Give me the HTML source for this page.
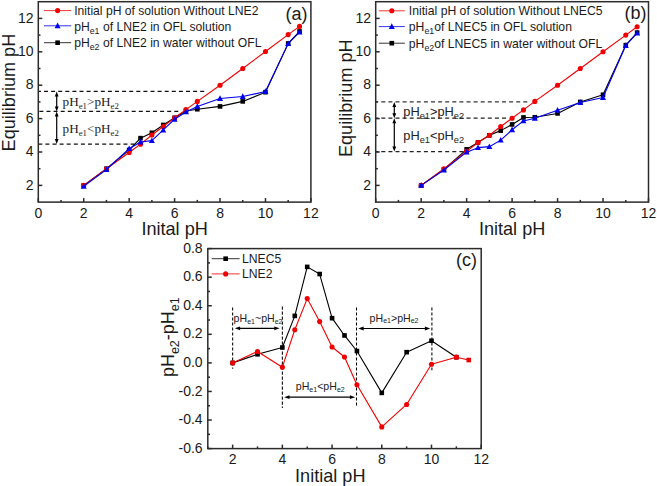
<!DOCTYPE html>
<html><head><meta charset="utf-8"><style>
html,body{margin:0;padding:0;background:#fff;}
body{width:657px;height:486px;overflow:hidden;font-family:"Liberation Sans", sans-serif;}
svg{display:block;}
</style></head><body>
<svg width="657" height="486" viewBox="0 0 657 486" font-family='"Liberation Sans", sans-serif' fill="#1a1a1a">
<rect width="100%" height="100%" fill="#ffffff"/>
<line x1="38.3" y1="91.4" x2="206.5" y2="91.4" stroke="#111" stroke-width="1.25" stroke-dasharray="4 3.1" stroke-dashoffset="1.4"/>
<line x1="38.3" y1="111.4" x2="179" y2="111.4" stroke="#111" stroke-width="1.25" stroke-dasharray="4 3.1" stroke-dashoffset="6.0"/>
<line x1="38.3" y1="144" x2="134.5" y2="144" stroke="#111" stroke-width="1.25" stroke-dasharray="4 3.1" stroke-dashoffset="0"/>
<line x1="56.7" y1="94.4" x2="56.7" y2="108.4" stroke="#000000" stroke-width="1.2"/>
<polygon points="56.7,91.4 54.8,96.4 58.6,96.4" fill="#000000"/>
<polygon points="56.7,111.4 54.8,106.4 58.6,106.4" fill="#000000"/>
<line x1="56.7" y1="114.4" x2="56.7" y2="141" stroke="#000000" stroke-width="1.2"/>
<polygon points="56.7,111.4 54.8,116.4 58.6,116.4" fill="#000000"/>
<polygon points="56.7,144 54.8,139 58.6,139" fill="#000000"/>
<text x="62.6" y="105.7" font-size="13.2" font-family='"Liberation Serif", serif' fill="#222" text-anchor="start">pH<tspan font-size="8.8" dy="3.3">e1</tspan><tspan dy="-3.3">&gt;</tspan>pH<tspan font-size="8.8" dy="3.3">e2</tspan></text>
<text x="62.6" y="133" font-size="13.2" font-family='"Liberation Serif", serif' fill="#222" text-anchor="start">pH<tspan font-size="8.8" dy="3.0">e1</tspan><tspan dy="-3.0">&lt;</tspan>pH<tspan font-size="8.8" dy="3.0">e2</tspan></text>
<polyline points="83.73,185.4 106.45,168.7 129.17,150 140.52,138.14 151.88,132.79 163.24,124.95 174.6,117.77 185.96,111.08 197.32,109.25 220.03,106.41 242.75,101.4 265.47,92.21 288.18,43.45 299.54,31.43" fill="none" stroke="#000000" stroke-width="1.1" stroke-linejoin="round"/>
<rect x="81.43" y="183.1" width="4.6" height="4.6" fill="#000000"/>
<rect x="104.15" y="166.4" width="4.6" height="4.6" fill="#000000"/>
<rect x="126.87" y="147.7" width="4.6" height="4.6" fill="#000000"/>
<rect x="138.22" y="135.84" width="4.6" height="4.6" fill="#000000"/>
<rect x="149.58" y="130.49" width="4.6" height="4.6" fill="#000000"/>
<rect x="160.94" y="122.65" width="4.6" height="4.6" fill="#000000"/>
<rect x="172.3" y="115.47" width="4.6" height="4.6" fill="#000000"/>
<rect x="183.66" y="108.78" width="4.6" height="4.6" fill="#000000"/>
<rect x="195.02" y="106.95" width="4.6" height="4.6" fill="#000000"/>
<rect x="217.73" y="104.11" width="4.6" height="4.6" fill="#000000"/>
<rect x="240.45" y="99.1" width="4.6" height="4.6" fill="#000000"/>
<rect x="263.17" y="89.91" width="4.6" height="4.6" fill="#000000"/>
<rect x="285.88" y="41.15" width="4.6" height="4.6" fill="#000000"/>
<rect x="297.24" y="29.13" width="4.6" height="4.6" fill="#000000"/>
<polyline points="83.73,185.4 106.45,168.7 129.17,152.5 140.52,144.15 151.88,134.97 163.24,126.45 174.6,117.77 185.96,109.58 197.32,101.4 220.03,85.2 242.75,68.5 265.47,51.47 288.18,34.6 299.54,26.42" fill="none" stroke="#f00000" stroke-width="1.1" stroke-linejoin="round"/>
<circle cx="83.73" cy="185.4" r="2.55" fill="#f00000"/>
<circle cx="106.45" cy="168.7" r="2.55" fill="#f00000"/>
<circle cx="129.17" cy="152.5" r="2.55" fill="#f00000"/>
<circle cx="140.52" cy="144.15" r="2.55" fill="#f00000"/>
<circle cx="151.88" cy="134.97" r="2.55" fill="#f00000"/>
<circle cx="163.24" cy="126.45" r="2.55" fill="#f00000"/>
<circle cx="174.6" cy="117.77" r="2.55" fill="#f00000"/>
<circle cx="185.96" cy="109.58" r="2.55" fill="#f00000"/>
<circle cx="197.32" cy="101.4" r="2.55" fill="#f00000"/>
<circle cx="220.03" cy="85.2" r="2.55" fill="#f00000"/>
<circle cx="242.75" cy="68.5" r="2.55" fill="#f00000"/>
<circle cx="265.47" cy="51.47" r="2.55" fill="#f00000"/>
<circle cx="288.18" cy="34.6" r="2.55" fill="#f00000"/>
<circle cx="299.54" cy="26.42" r="2.55" fill="#f00000"/>
<polyline points="83.73,186.23 106.45,169.53 129.17,148.66 140.52,141.98 151.88,140.64 163.24,129.96 174.6,119.27 185.96,111.92 197.32,106.41 220.03,98.56 242.75,96.56 265.47,91.55 288.18,43.62 299.54,32.09" fill="none" stroke="#0000f0" stroke-width="1.1" stroke-linejoin="round"/>
<polygon points="83.73,183.01 80.74,188.66 86.72,188.66" fill="#0000f0"/>
<polygon points="106.45,166.31 103.46,171.96 109.44,171.96" fill="#0000f0"/>
<polygon points="129.17,145.43 126.18,151.08 132.16,151.08" fill="#0000f0"/>
<polygon points="140.52,138.75 137.53,144.4 143.51,144.4" fill="#0000f0"/>
<polygon points="151.88,137.41 148.89,143.07 154.87,143.07" fill="#0000f0"/>
<polygon points="163.24,126.73 160.25,132.38 166.23,132.38" fill="#0000f0"/>
<polygon points="174.6,116.04 171.61,121.69 177.59,121.69" fill="#0000f0"/>
<polygon points="185.96,108.69 182.97,114.34 188.95,114.34" fill="#0000f0"/>
<polygon points="197.32,103.18 194.33,108.83 200.31,108.83" fill="#0000f0"/>
<polygon points="220.03,95.33 217.04,100.98 223.02,100.98" fill="#0000f0"/>
<polygon points="242.75,93.33 239.76,98.98 245.74,98.98" fill="#0000f0"/>
<polygon points="265.47,88.32 262.48,93.97 268.46,93.97" fill="#0000f0"/>
<polygon points="288.18,40.39 285.19,46.04 291.17,46.04" fill="#0000f0"/>
<polygon points="299.54,28.86 296.55,34.52 302.53,34.52" fill="#0000f0"/>
<rect x="38.3" y="1.7" width="272.6" height="200.4" fill="none" stroke="#2b2b2b" stroke-width="1.5"/>
<line x1="38.3" y1="202.1" x2="38.3" y2="198.1" stroke="#2b2b2b" stroke-width="1.5"/>
<line x1="83.73" y1="202.1" x2="83.73" y2="198.1" stroke="#2b2b2b" stroke-width="1.5"/>
<line x1="129.17" y1="202.1" x2="129.17" y2="198.1" stroke="#2b2b2b" stroke-width="1.5"/>
<line x1="174.6" y1="202.1" x2="174.6" y2="198.1" stroke="#2b2b2b" stroke-width="1.5"/>
<line x1="220.03" y1="202.1" x2="220.03" y2="198.1" stroke="#2b2b2b" stroke-width="1.5"/>
<line x1="265.47" y1="202.1" x2="265.47" y2="198.1" stroke="#2b2b2b" stroke-width="1.5"/>
<line x1="310.9" y1="202.1" x2="310.9" y2="198.1" stroke="#2b2b2b" stroke-width="1.5"/>
<line x1="61.02" y1="202.1" x2="61.02" y2="199.9" stroke="#2b2b2b" stroke-width="1.5"/>
<line x1="106.45" y1="202.1" x2="106.45" y2="199.9" stroke="#2b2b2b" stroke-width="1.5"/>
<line x1="151.88" y1="202.1" x2="151.88" y2="199.9" stroke="#2b2b2b" stroke-width="1.5"/>
<line x1="197.32" y1="202.1" x2="197.32" y2="199.9" stroke="#2b2b2b" stroke-width="1.5"/>
<line x1="242.75" y1="202.1" x2="242.75" y2="199.9" stroke="#2b2b2b" stroke-width="1.5"/>
<line x1="288.18" y1="202.1" x2="288.18" y2="199.9" stroke="#2b2b2b" stroke-width="1.5"/>
<text x="38.3" y="217.8" font-size="14" text-anchor="middle">0</text>
<text x="83.73" y="217.8" font-size="14" text-anchor="middle">2</text>
<text x="129.17" y="217.8" font-size="14" text-anchor="middle">4</text>
<text x="174.6" y="217.8" font-size="14" text-anchor="middle">6</text>
<text x="220.03" y="217.8" font-size="14" text-anchor="middle">8</text>
<text x="265.47" y="217.8" font-size="14" text-anchor="middle">10</text>
<text x="310.9" y="217.8" font-size="14" text-anchor="middle">12</text>
<line x1="38.3" y1="185.4" x2="42.3" y2="185.4" stroke="#2b2b2b" stroke-width="1.5"/>
<line x1="38.3" y1="152" x2="42.3" y2="152" stroke="#2b2b2b" stroke-width="1.5"/>
<line x1="38.3" y1="118.6" x2="42.3" y2="118.6" stroke="#2b2b2b" stroke-width="1.5"/>
<line x1="38.3" y1="85.2" x2="42.3" y2="85.2" stroke="#2b2b2b" stroke-width="1.5"/>
<line x1="38.3" y1="51.8" x2="42.3" y2="51.8" stroke="#2b2b2b" stroke-width="1.5"/>
<line x1="38.3" y1="18.4" x2="42.3" y2="18.4" stroke="#2b2b2b" stroke-width="1.5"/>
<line x1="38.3" y1="168.7" x2="40.5" y2="168.7" stroke="#2b2b2b" stroke-width="1.5"/>
<line x1="38.3" y1="135.3" x2="40.5" y2="135.3" stroke="#2b2b2b" stroke-width="1.5"/>
<line x1="38.3" y1="101.9" x2="40.5" y2="101.9" stroke="#2b2b2b" stroke-width="1.5"/>
<line x1="38.3" y1="68.5" x2="40.5" y2="68.5" stroke="#2b2b2b" stroke-width="1.5"/>
<line x1="38.3" y1="35.1" x2="40.5" y2="35.1" stroke="#2b2b2b" stroke-width="1.5"/>
<text x="33.5" y="189.5" font-size="14" text-anchor="end">2</text>
<text x="33.5" y="156.1" font-size="14" text-anchor="end">4</text>
<text x="33.5" y="122.7" font-size="14" text-anchor="end">6</text>
<text x="33.5" y="89.3" font-size="14" text-anchor="end">8</text>
<text x="33.5" y="55.9" font-size="14" text-anchor="end">10</text>
<text x="33.5" y="22.5" font-size="14" text-anchor="end">12</text>
<line x1="44" y1="10.6" x2="71.2" y2="10.6" stroke="#f00000" stroke-width="1.0" stroke-opacity="0.8"/>
<circle cx="57.6" cy="10.6" r="2.55" fill="#f00000"/>
<line x1="44" y1="25.8" x2="71.2" y2="25.8" stroke="#0000f0" stroke-width="1.0" stroke-opacity="0.8"/>
<polygon points="57.6,22.57 54.61,28.22 60.59,28.22" fill="#0000f0"/>
<line x1="44" y1="42.7" x2="71.2" y2="42.7" stroke="#000000" stroke-width="1.0" stroke-opacity="0.8"/>
<rect x="55.3" y="40.4" width="4.6" height="4.6" fill="#000000"/>
<text x="74.2" y="14.9" font-size="12.15">Initial pH of solution Without LNE2</text>
<text x="74.2" y="30.6" font-size="12.15">pH<tspan font-size="8.8" dy="2.9">e1</tspan><tspan dy="-2.9"> of LNE2 in OFL solution</tspan></text>
<text x="74.2" y="46.9" font-size="12.15">pH<tspan font-size="8.8" dy="2.9">e2</tspan><tspan dy="-2.9"> of LNE2 in water without OFL</tspan></text>
<text x="285.5" y="19.6" font-size="18">(a)</text>
<text x="174.6" y="234.7" font-size="18.1" text-anchor="middle">Inital pH</text>
<text transform="translate(15.2,92.6) rotate(-90)" font-size="18.1" text-anchor="middle">Equilibrium pH</text>
<line x1="375.7" y1="101.9" x2="529.5" y2="101.9" stroke="#333" stroke-width="1.25" stroke-dasharray="4 3.1" stroke-dashoffset="1.5"/>
<line x1="375.7" y1="118.2" x2="509" y2="118.2" stroke="#222" stroke-width="1.25" stroke-dasharray="4 3.1" stroke-dashoffset="1.5"/>
<line x1="375.7" y1="151.6" x2="464.5" y2="151.6" stroke="#222" stroke-width="1.25" stroke-dasharray="4 3.1" stroke-dashoffset="1.5"/>
<line x1="394.3" y1="104.9" x2="394.3" y2="115.2" stroke="#000000" stroke-width="1.2"/>
<polygon points="394.3,101.9 392.4,106.9 396.2,106.9" fill="#000000"/>
<polygon points="394.3,118.2 392.4,113.2 396.2,113.2" fill="#000000"/>
<line x1="394.3" y1="121.2" x2="394.3" y2="148.6" stroke="#000000" stroke-width="1.2"/>
<polygon points="394.3,118.2 392.4,123.2 396.2,123.2" fill="#000000"/>
<polygon points="394.3,151.6 392.4,146.6 396.2,146.6" fill="#000000"/>
<text x="403.3" y="116.1" font-size="12.8" font-family='"Liberation Sans", sans-serif' fill="#222" text-anchor="start">pH<tspan font-size="9.3" dy="2.7">e1</tspan><tspan dy="-2.7">&gt;</tspan>pH<tspan font-size="9.3" dy="2.7">e2</tspan></text>
<text x="403.3" y="139.9" font-size="12.8" font-family='"Liberation Sans", sans-serif' fill="#222" text-anchor="start">pH<tspan font-size="9.3" dy="2.7">e1</tspan><tspan dy="-2.7">&lt;</tspan>pH<tspan font-size="9.3" dy="2.7">e2</tspan></text>
<polyline points="421.17,185.4 443.9,169.53 466.63,149.33 478,142.48 489.37,135.3 500.73,130.62 512.1,124.44 523.47,117.43 534.83,117.26 557.57,113.42 580.3,101.9 603.03,94.72 625.77,45.12 637.13,32.59" fill="none" stroke="#000000" stroke-width="1.1" stroke-linejoin="round"/>
<rect x="418.87" y="183.1" width="4.6" height="4.6" fill="#000000"/>
<rect x="441.6" y="167.23" width="4.6" height="4.6" fill="#000000"/>
<rect x="464.33" y="147.03" width="4.6" height="4.6" fill="#000000"/>
<rect x="475.7" y="140.18" width="4.6" height="4.6" fill="#000000"/>
<rect x="487.07" y="133" width="4.6" height="4.6" fill="#000000"/>
<rect x="498.43" y="128.32" width="4.6" height="4.6" fill="#000000"/>
<rect x="509.8" y="122.14" width="4.6" height="4.6" fill="#000000"/>
<rect x="521.17" y="115.13" width="4.6" height="4.6" fill="#000000"/>
<rect x="532.53" y="114.96" width="4.6" height="4.6" fill="#000000"/>
<rect x="555.27" y="111.12" width="4.6" height="4.6" fill="#000000"/>
<rect x="578" y="99.6" width="4.6" height="4.6" fill="#000000"/>
<rect x="600.73" y="92.42" width="4.6" height="4.6" fill="#000000"/>
<rect x="623.47" y="42.82" width="4.6" height="4.6" fill="#000000"/>
<rect x="634.83" y="30.29" width="4.6" height="4.6" fill="#000000"/>
<polyline points="421.17,185.4 443.9,168.7 466.63,151.33 478,142.48 489.37,135.3 500.73,126.45 512.1,118.27 523.47,109.92 534.83,101.4 557.57,85.2 580.3,68.5 603.03,51.8 625.77,35.1 637.13,26.75" fill="none" stroke="#f00000" stroke-width="1.1" stroke-linejoin="round"/>
<circle cx="421.17" cy="185.4" r="2.55" fill="#f00000"/>
<circle cx="443.9" cy="168.7" r="2.55" fill="#f00000"/>
<circle cx="466.63" cy="151.33" r="2.55" fill="#f00000"/>
<circle cx="478" cy="142.48" r="2.55" fill="#f00000"/>
<circle cx="489.37" cy="135.3" r="2.55" fill="#f00000"/>
<circle cx="500.73" cy="126.45" r="2.55" fill="#f00000"/>
<circle cx="512.1" cy="118.27" r="2.55" fill="#f00000"/>
<circle cx="523.47" cy="109.92" r="2.55" fill="#f00000"/>
<circle cx="534.83" cy="101.4" r="2.55" fill="#f00000"/>
<circle cx="557.57" cy="85.2" r="2.55" fill="#f00000"/>
<circle cx="580.3" cy="68.5" r="2.55" fill="#f00000"/>
<circle cx="603.03" cy="51.8" r="2.55" fill="#f00000"/>
<circle cx="625.77" cy="35.1" r="2.55" fill="#f00000"/>
<circle cx="637.13" cy="26.75" r="2.55" fill="#f00000"/>
<polyline points="421.17,185.4 443.9,170.04 466.63,152.17 478,147.66 489.37,146.66 500.73,140.14 512.1,129.79 523.47,120.94 534.83,118.27 557.57,110.25 580.3,102.57 603.03,97.56 625.77,45.45 637.13,33.1" fill="none" stroke="#0000f0" stroke-width="1.1" stroke-linejoin="round"/>
<polygon points="421.17,182.17 418.18,187.82 424.16,187.82" fill="#0000f0"/>
<polygon points="443.9,166.81 440.91,172.46 446.89,172.46" fill="#0000f0"/>
<polygon points="466.63,148.94 463.64,154.59 469.62,154.59" fill="#0000f0"/>
<polygon points="478,144.43 475.01,150.08 480.99,150.08" fill="#0000f0"/>
<polygon points="489.37,143.43 486.38,149.08 492.36,149.08" fill="#0000f0"/>
<polygon points="500.73,136.91 497.74,142.56 503.72,142.56" fill="#0000f0"/>
<polygon points="512.1,126.56 509.11,132.21 515.09,132.21" fill="#0000f0"/>
<polygon points="523.47,117.71 520.48,123.36 526.46,123.36" fill="#0000f0"/>
<polygon points="534.83,115.04 531.84,120.69 537.82,120.69" fill="#0000f0"/>
<polygon points="557.57,107.02 554.58,112.67 560.56,112.67" fill="#0000f0"/>
<polygon points="580.3,99.34 577.31,104.99 583.29,104.99" fill="#0000f0"/>
<polygon points="603.03,94.33 600.04,99.98 606.02,99.98" fill="#0000f0"/>
<polygon points="625.77,42.22 622.78,47.88 628.76,47.88" fill="#0000f0"/>
<polygon points="637.13,29.87 634.14,35.52 640.12,35.52" fill="#0000f0"/>
<rect x="375.7" y="1.7" width="272.8" height="200.4" fill="none" stroke="#2b2b2b" stroke-width="1.5"/>
<line x1="375.7" y1="202.1" x2="375.7" y2="198.1" stroke="#2b2b2b" stroke-width="1.5"/>
<line x1="421.17" y1="202.1" x2="421.17" y2="198.1" stroke="#2b2b2b" stroke-width="1.5"/>
<line x1="466.63" y1="202.1" x2="466.63" y2="198.1" stroke="#2b2b2b" stroke-width="1.5"/>
<line x1="512.1" y1="202.1" x2="512.1" y2="198.1" stroke="#2b2b2b" stroke-width="1.5"/>
<line x1="557.57" y1="202.1" x2="557.57" y2="198.1" stroke="#2b2b2b" stroke-width="1.5"/>
<line x1="603.03" y1="202.1" x2="603.03" y2="198.1" stroke="#2b2b2b" stroke-width="1.5"/>
<line x1="648.5" y1="202.1" x2="648.5" y2="198.1" stroke="#2b2b2b" stroke-width="1.5"/>
<line x1="398.43" y1="202.1" x2="398.43" y2="199.9" stroke="#2b2b2b" stroke-width="1.5"/>
<line x1="443.9" y1="202.1" x2="443.9" y2="199.9" stroke="#2b2b2b" stroke-width="1.5"/>
<line x1="489.37" y1="202.1" x2="489.37" y2="199.9" stroke="#2b2b2b" stroke-width="1.5"/>
<line x1="534.83" y1="202.1" x2="534.83" y2="199.9" stroke="#2b2b2b" stroke-width="1.5"/>
<line x1="580.3" y1="202.1" x2="580.3" y2="199.9" stroke="#2b2b2b" stroke-width="1.5"/>
<line x1="625.77" y1="202.1" x2="625.77" y2="199.9" stroke="#2b2b2b" stroke-width="1.5"/>
<text x="375.7" y="217.8" font-size="14" text-anchor="middle">0</text>
<text x="421.17" y="217.8" font-size="14" text-anchor="middle">2</text>
<text x="466.63" y="217.8" font-size="14" text-anchor="middle">4</text>
<text x="512.1" y="217.8" font-size="14" text-anchor="middle">6</text>
<text x="557.57" y="217.8" font-size="14" text-anchor="middle">8</text>
<text x="603.03" y="217.8" font-size="14" text-anchor="middle">10</text>
<text x="648.5" y="217.8" font-size="14" text-anchor="middle">12</text>
<line x1="375.7" y1="185.4" x2="379.7" y2="185.4" stroke="#2b2b2b" stroke-width="1.5"/>
<line x1="375.7" y1="152" x2="379.7" y2="152" stroke="#2b2b2b" stroke-width="1.5"/>
<line x1="375.7" y1="118.6" x2="379.7" y2="118.6" stroke="#2b2b2b" stroke-width="1.5"/>
<line x1="375.7" y1="85.2" x2="379.7" y2="85.2" stroke="#2b2b2b" stroke-width="1.5"/>
<line x1="375.7" y1="51.8" x2="379.7" y2="51.8" stroke="#2b2b2b" stroke-width="1.5"/>
<line x1="375.7" y1="18.4" x2="379.7" y2="18.4" stroke="#2b2b2b" stroke-width="1.5"/>
<line x1="375.7" y1="168.7" x2="377.9" y2="168.7" stroke="#2b2b2b" stroke-width="1.5"/>
<line x1="375.7" y1="135.3" x2="377.9" y2="135.3" stroke="#2b2b2b" stroke-width="1.5"/>
<line x1="375.7" y1="101.9" x2="377.9" y2="101.9" stroke="#2b2b2b" stroke-width="1.5"/>
<line x1="375.7" y1="68.5" x2="377.9" y2="68.5" stroke="#2b2b2b" stroke-width="1.5"/>
<line x1="375.7" y1="35.1" x2="377.9" y2="35.1" stroke="#2b2b2b" stroke-width="1.5"/>
<text x="371" y="189.5" font-size="14" text-anchor="end">2</text>
<text x="371" y="156.1" font-size="14" text-anchor="end">4</text>
<text x="371" y="122.7" font-size="14" text-anchor="end">6</text>
<text x="371" y="89.3" font-size="14" text-anchor="end">8</text>
<text x="371" y="55.9" font-size="14" text-anchor="end">10</text>
<text x="371" y="22.5" font-size="14" text-anchor="end">12</text>
<line x1="378.8" y1="10.8" x2="404.8" y2="10.8" stroke="#f00000" stroke-width="1.0" stroke-opacity="0.8"/>
<circle cx="391.8" cy="10.8" r="2.55" fill="#f00000"/>
<line x1="378.8" y1="26.6" x2="404.8" y2="26.6" stroke="#0000f0" stroke-width="1.0" stroke-opacity="0.8"/>
<polygon points="391.8,23.37 388.81,29.02 394.79,29.02" fill="#0000f0"/>
<line x1="378.8" y1="43.2" x2="404.8" y2="43.2" stroke="#000000" stroke-width="1.0" stroke-opacity="0.8"/>
<rect x="389.5" y="40.9" width="4.6" height="4.6" fill="#000000"/>
<text x="408.8" y="15.4" font-size="12.2">Initial pH of solution Without LNEC5</text>
<text x="408.8" y="31.1" font-size="12.2">pH<tspan font-size="8.8" dy="2.9">e1</tspan><tspan dy="-2.9">of LNEC5 in OFL solution</tspan></text>
<text x="408.8" y="47.7" font-size="12.2">pH<tspan font-size="8.8" dy="2.9">e2</tspan><tspan dy="-2.9">of LNEC5 in water without OFL</tspan></text>
<text x="624.6" y="19.4" font-size="18">(b)</text>
<text x="512.1" y="234.7" font-size="18.1" text-anchor="middle">Inital pH</text>
<text transform="translate(352.4,98.2) rotate(-90)" font-size="18.1" text-anchor="middle">Equilibrium pH</text>
<line x1="232.65" y1="307.4" x2="232.65" y2="368.8" stroke="#000000" stroke-width="1.05" stroke-dasharray="3.1 1.9"/>
<line x1="282.36" y1="306.6" x2="282.36" y2="408" stroke="#000000" stroke-width="1.05" stroke-dasharray="3.1 1.9"/>
<line x1="356.5" y1="307.4" x2="356.5" y2="405.5" stroke="#000000" stroke-width="1.05" stroke-dasharray="3.1 1.9"/>
<line x1="431.9" y1="307.4" x2="431.9" y2="370.3" stroke="#000000" stroke-width="1.05" stroke-dasharray="3.1 1.9"/>
<line x1="237.98" y1="328.3" x2="276.42" y2="328.3" stroke="#000000" stroke-width="1.2"/>
<polygon points="234.8,328.3 240.1,326.4 240.1,330.2" fill="#000000"/>
<polygon points="279.6,328.3 274.3,326.4 274.3,330.2" fill="#000000"/>
<line x1="287.38" y1="397.2" x2="352.02" y2="397.2" stroke="#000000" stroke-width="1.2"/>
<polygon points="284.2,397.2 289.5,395.3 289.5,399.1" fill="#000000"/>
<polygon points="355.2,397.2 349.9,395.3 349.9,399.1" fill="#000000"/>
<line x1="361.48" y1="328.5" x2="427.02" y2="328.5" stroke="#000000" stroke-width="1.2"/>
<polygon points="358.3,328.5 363.6,326.6 363.6,330.4" fill="#000000"/>
<polygon points="430.2,328.5 424.9,326.6 424.9,330.4" fill="#000000"/>
<text x="233.6" y="322.3" font-size="10.6" font-family='"Liberation Sans", sans-serif' fill="#222" text-anchor="start">pH<tspan font-size="7.0" dy="1.7">e1</tspan><tspan dy="-1.7">~</tspan>pH<tspan font-size="7.0" dy="1.7">e2</tspan></text>
<text x="295.8" y="390.3" font-size="10.6" font-family='"Liberation Sans", sans-serif' fill="#222" text-anchor="start">pH<tspan font-size="7.0" dy="1.7">e1</tspan><tspan dy="-1.7">&lt;</tspan>pH<tspan font-size="7.0" dy="1.7">e2</tspan></text>
<text x="369.6" y="321.7" font-size="10.6" font-family='"Liberation Sans", sans-serif' fill="#222" text-anchor="start">pH<tspan font-size="7.0" dy="1.7">e1</tspan><tspan dy="-1.7">&gt;</tspan>pH<tspan font-size="7.0" dy="1.7">e2</tspan></text>
<polyline points="232.65,362.89 257.51,354.31 282.36,347.46 294.79,315.89 307.22,266.89 319.65,274.03 332.07,318.17 344.5,335.46 356.93,351.03 381.78,392.89 406.64,352.17 431.49,340.74 456.35,357.17" fill="none" stroke="#000000" stroke-width="1.1" stroke-linejoin="round"/>
<rect x="230.35" y="360.59" width="4.6" height="4.6" fill="#000000"/>
<rect x="255.21" y="352.01" width="4.6" height="4.6" fill="#000000"/>
<rect x="280.06" y="345.16" width="4.6" height="4.6" fill="#000000"/>
<rect x="292.49" y="313.59" width="4.6" height="4.6" fill="#000000"/>
<rect x="304.92" y="264.59" width="4.6" height="4.6" fill="#000000"/>
<rect x="317.35" y="271.73" width="4.6" height="4.6" fill="#000000"/>
<rect x="329.77" y="315.87" width="4.6" height="4.6" fill="#000000"/>
<rect x="342.2" y="333.16" width="4.6" height="4.6" fill="#000000"/>
<rect x="354.63" y="348.73" width="4.6" height="4.6" fill="#000000"/>
<rect x="379.48" y="390.59" width="4.6" height="4.6" fill="#000000"/>
<rect x="404.34" y="349.87" width="4.6" height="4.6" fill="#000000"/>
<rect x="429.19" y="338.44" width="4.6" height="4.6" fill="#000000"/>
<rect x="454.05" y="354.87" width="4.6" height="4.6" fill="#000000"/>
<polyline points="232.65,362.89 257.51,351.46 282.36,367.17 294.79,329.74 307.22,298.6 319.65,321.6 332.07,347.03 344.5,357.03 356.93,384.74 381.78,426.89 406.64,404.46 431.49,364.31 456.35,357.17 468.77,360.03" fill="none" stroke="#f00000" stroke-width="1.1" stroke-linejoin="round"/>
<circle cx="232.65" cy="362.89" r="2.55" fill="#f00000"/>
<circle cx="257.51" cy="351.46" r="2.55" fill="#f00000"/>
<circle cx="282.36" cy="367.17" r="2.55" fill="#f00000"/>
<circle cx="294.79" cy="329.74" r="2.55" fill="#f00000"/>
<circle cx="307.22" cy="298.6" r="2.55" fill="#f00000"/>
<circle cx="319.65" cy="321.6" r="2.55" fill="#f00000"/>
<circle cx="332.07" cy="347.03" r="2.55" fill="#f00000"/>
<circle cx="344.5" cy="357.03" r="2.55" fill="#f00000"/>
<circle cx="356.93" cy="384.74" r="2.55" fill="#f00000"/>
<circle cx="381.78" cy="426.89" r="2.55" fill="#f00000"/>
<circle cx="406.64" cy="404.46" r="2.55" fill="#f00000"/>
<circle cx="431.49" cy="364.31" r="2.55" fill="#f00000"/>
<circle cx="456.35" cy="357.17" r="2.55" fill="#f00000"/>
<rect x="466.47" y="357.73" width="4.6" height="4.6" fill="#f00000"/>
<rect x="454.2" y="355.02" width="4.3" height="4.3" fill="#f00000"/>
<rect x="207.8" y="248.6" width="273.4" height="200" fill="none" stroke="#2b2b2b" stroke-width="1.5"/>
<line x1="232.65" y1="448.6" x2="232.65" y2="444.6" stroke="#2b2b2b" stroke-width="1.5"/>
<line x1="282.36" y1="448.6" x2="282.36" y2="444.6" stroke="#2b2b2b" stroke-width="1.5"/>
<line x1="332.07" y1="448.6" x2="332.07" y2="444.6" stroke="#2b2b2b" stroke-width="1.5"/>
<line x1="381.78" y1="448.6" x2="381.78" y2="444.6" stroke="#2b2b2b" stroke-width="1.5"/>
<line x1="431.49" y1="448.6" x2="431.49" y2="444.6" stroke="#2b2b2b" stroke-width="1.5"/>
<line x1="481.2" y1="448.6" x2="481.2" y2="444.6" stroke="#2b2b2b" stroke-width="1.5"/>
<line x1="207.8" y1="448.6" x2="207.8" y2="446.4" stroke="#2b2b2b" stroke-width="1.5"/>
<line x1="257.51" y1="448.6" x2="257.51" y2="446.4" stroke="#2b2b2b" stroke-width="1.5"/>
<line x1="307.22" y1="448.6" x2="307.22" y2="446.4" stroke="#2b2b2b" stroke-width="1.5"/>
<line x1="356.93" y1="448.6" x2="356.93" y2="446.4" stroke="#2b2b2b" stroke-width="1.5"/>
<line x1="406.64" y1="448.6" x2="406.64" y2="446.4" stroke="#2b2b2b" stroke-width="1.5"/>
<line x1="456.35" y1="448.6" x2="456.35" y2="446.4" stroke="#2b2b2b" stroke-width="1.5"/>
<text x="232.65" y="464.3" font-size="14" text-anchor="middle">2</text>
<text x="282.36" y="464.3" font-size="14" text-anchor="middle">4</text>
<text x="332.07" y="464.3" font-size="14" text-anchor="middle">6</text>
<text x="381.78" y="464.3" font-size="14" text-anchor="middle">8</text>
<text x="431.49" y="464.3" font-size="14" text-anchor="middle">10</text>
<text x="481.2" y="464.3" font-size="14" text-anchor="middle">12</text>
<line x1="207.8" y1="448.6" x2="211.8" y2="448.6" stroke="#2b2b2b" stroke-width="1.5"/>
<line x1="207.8" y1="420.03" x2="211.8" y2="420.03" stroke="#2b2b2b" stroke-width="1.5"/>
<line x1="207.8" y1="391.46" x2="211.8" y2="391.46" stroke="#2b2b2b" stroke-width="1.5"/>
<line x1="207.8" y1="362.89" x2="211.8" y2="362.89" stroke="#2b2b2b" stroke-width="1.5"/>
<line x1="207.8" y1="334.31" x2="211.8" y2="334.31" stroke="#2b2b2b" stroke-width="1.5"/>
<line x1="207.8" y1="305.74" x2="211.8" y2="305.74" stroke="#2b2b2b" stroke-width="1.5"/>
<line x1="207.8" y1="277.17" x2="211.8" y2="277.17" stroke="#2b2b2b" stroke-width="1.5"/>
<line x1="207.8" y1="248.6" x2="211.8" y2="248.6" stroke="#2b2b2b" stroke-width="1.5"/>
<line x1="207.8" y1="434.31" x2="210" y2="434.31" stroke="#2b2b2b" stroke-width="1.5"/>
<line x1="207.8" y1="405.74" x2="210" y2="405.74" stroke="#2b2b2b" stroke-width="1.5"/>
<line x1="207.8" y1="377.17" x2="210" y2="377.17" stroke="#2b2b2b" stroke-width="1.5"/>
<line x1="207.8" y1="348.6" x2="210" y2="348.6" stroke="#2b2b2b" stroke-width="1.5"/>
<line x1="207.8" y1="320.03" x2="210" y2="320.03" stroke="#2b2b2b" stroke-width="1.5"/>
<line x1="207.8" y1="291.46" x2="210" y2="291.46" stroke="#2b2b2b" stroke-width="1.5"/>
<line x1="207.8" y1="262.89" x2="210" y2="262.89" stroke="#2b2b2b" stroke-width="1.5"/>
<text x="202.6" y="452.7" font-size="14" text-anchor="end">-0.6</text>
<text x="202.6" y="424.13" font-size="14" text-anchor="end">-0.4</text>
<text x="202.6" y="395.56" font-size="14" text-anchor="end">-0.2</text>
<text x="202.6" y="366.99" font-size="14" text-anchor="end">0.0</text>
<text x="202.6" y="338.41" font-size="14" text-anchor="end">0.2</text>
<text x="202.6" y="309.84" font-size="14" text-anchor="end">0.4</text>
<text x="202.6" y="281.27" font-size="14" text-anchor="end">0.6</text>
<text x="202.6" y="252.7" font-size="14" text-anchor="end">0.8</text>
<line x1="211.7" y1="258.7" x2="239.6" y2="258.7" stroke="#000000" stroke-width="1.0" stroke-opacity="0.8"/>
<rect x="223.35" y="256.4" width="4.6" height="4.6" fill="#000000"/>
<line x1="211.7" y1="273.9" x2="239.6" y2="273.9" stroke="#f00000" stroke-width="1.0" stroke-opacity="0.8"/>
<circle cx="225.65" cy="273.9" r="2.55" fill="#f00000"/>
<text x="242.0" y="263.3" font-size="12.2">LNEC5</text>
<text x="242.0" y="278.1" font-size="12.2">LNE2</text>
<text x="456" y="266.2" font-size="18">(c)</text>
<text x="330.3" y="481.6" font-size="18.1" text-anchor="middle">Initial pH</text>
<text transform="translate(174.0,337.2) rotate(-90)" font-size="18" text-anchor="middle">pH<tspan font-size="12.5" dy="4.8">e2</tspan><tspan dy="-4.8">-pH</tspan><tspan font-size="12.5" dy="4.8">e1</tspan></text>
</svg>
</body></html>
